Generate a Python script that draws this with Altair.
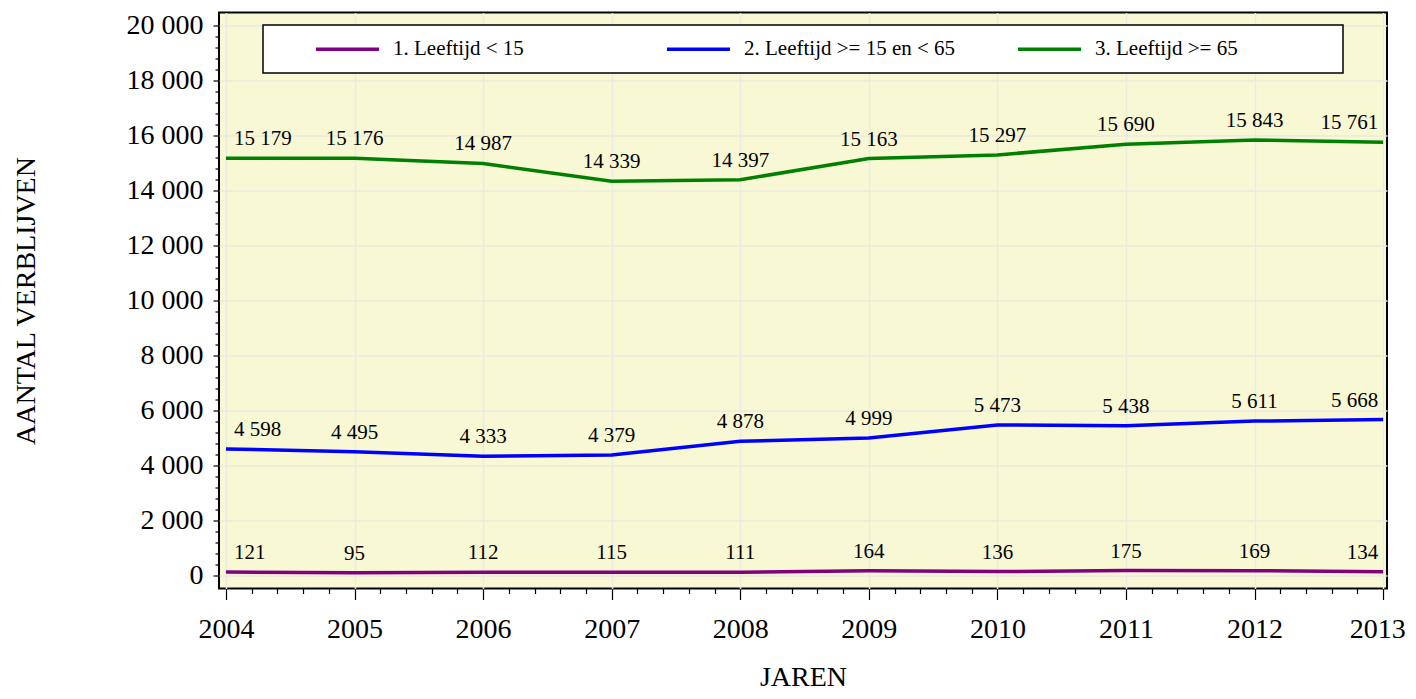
import altair as alt
import pandas as pd

years = [2004, 2005, 2006, 2007, 2008, 2009, 2010, 2011, 2012, 2013]
series_names = ["1. Leeftijd < 15", "2. Leeftijd >= 15 en < 65", "3. Leeftijd >= 65"]
age_lt15 = [121, 95, 112, 115, 111, 164, 136, 175, 169, 134]
age_15_65 = [4598, 4495, 4333, 4379, 4878, 4999, 5473, 5438, 5611, 5668]
age_ge65 = [15179, 15176, 14987, 14339, 14397, 15163, 15297, 15690, 15843, 15761]
colors = ["#800080", "#0000ff", "#008000"]

rows = []
for name, vals in zip(series_names, [age_lt15, age_15_65, age_ge65]):
    for y, v in zip(years, vals):
        rows.append({"year": y, "value": v, "series": name,
                     "label": f"{v:,}".replace(",", " ")})
df = pd.DataFrame(rows)

FONT = "Liberation Serif"
x_minor = [round(years[0] + i * 0.2, 1) for i in range(int((years[-1] - years[0]) * 5) + 1)]
y_minor = list(range(0, 20001, 400))

x_major_test = "abs(datum.value - round(datum.value)) < 0.01"
y_major_test = "datum.value % 2000 === 0"

xscale = alt.Scale(domain=[2003.946, 2013.03], nice=False, zero=False)
yscale = alt.Scale(domain=[-480, 20480], nice=False, zero=False)

x_axis = alt.Axis(
    values=x_minor, tickCount=500, orient="bottom", title="JAREN",
    labelExpr=f"{x_major_test} ? format(datum.value, 'd') : ''",
    labelFont=FONT, labelFontSize=28, labelColor="black", labelPadding=16,
    labelFlush=False, labelOverlap=False,
    labelOffset={"condition": {"test": f"datum.value > {years[-1]} - 0.01", "value": -6}, "value": 0},
    tickSize={"condition": {"test": x_major_test, "value": 11}, "value": 5},
    tickColor="black", tickWidth=1.2,
    gridOpacity={"condition": {"test": x_major_test, "value": 1}, "value": 0},
    gridColor="#ebebe2", gridWidth=1.5, domain=False,
    titleFont=FONT, titleFontSize=28, titleFontWeight="normal", titleColor="black",
    titleBaseline="alphabetic", titleY=97, titleAnchor="middle",
)
y_axis = alt.Axis(
    values=y_minor, tickCount=500, orient="left", title="AANTAL VERBLIJVEN",
    labelExpr=f"{y_major_test} ? replace(format(datum.value, ','), ',', ' ') : ''",
    labelFont=FONT, labelFontSize=28, labelColor="black", labelPadding=10,
    labelOverlap=False, labelFlush=False,
    tickSize={"condition": {"test": y_major_test, "value": 6}, "value": 4},
    tickColor="black", tickWidth=1.2,
    gridOpacity={"condition": {"test": y_major_test, "value": 1}, "value": 0},
    gridColor="#ebebe2", gridWidth=1.5, domain=False,
    titleFont=FONT, titleFontSize=28, titleFontWeight="normal", titleColor="black",
    titleBaseline="alphabetic", titleAngle=270, titleX=-185, titleY=288, titleAlign="center",
)

legend = alt.Legend(
    orient="none", legendX=95, legendY=3, direction="horizontal", title=None,
    symbolType="stroke", symbolSize=3969, symbolStrokeWidth=3.5,
    labelFont=FONT, labelFontSize=21, labelColor="black", labelOffset=12,
    columnPadding=55, gridAlign="all", padding=0, labelLimit=400,
)

base = alt.Chart(df)

box = alt.Chart(alt.Data(values=[{}])).mark_rect(
    fill="white", stroke="black", strokeWidth=1.5
).encode(x=alt.value(44), x2=alt.value(1124), y=alt.value(12.5), y2=alt.value(60.5))

lines = base.mark_line(strokeWidth=3.5).encode(
    x=alt.X("year:Q", scale=xscale, axis=x_axis),
    y=alt.Y("value:Q", scale=yscale, axis=y_axis),
    color=alt.Color("series:N", scale=alt.Scale(domain=series_names, range=colors), legend=legend),
)

txt_kw = dict(font=FONT, fontSize=21, color="black", baseline="alphabetic", dy=-13)
enc = dict(x=alt.X("year:Q", scale=xscale), y=alt.Y("value:Q", scale=yscale), text="label:N")

first = base.transform_filter(f"datum.year == {years[0]}").mark_text(align="left", dx=8, **txt_kw).encode(**enc)
middle = base.transform_filter(f"datum.year > {years[0]} && datum.year < {years[-1]}").mark_text(align="center", **txt_kw).encode(**enc)
last = base.transform_filter(f"datum.year == {years[-1]}").mark_text(align="right", dx=-5, **txt_kw).encode(**enc)

chart = alt.layer(lines, box, first, middle, last).properties(
    width=1168, height=576,
    autosize=alt.AutoSizeParams(type="none"),
    padding={"left": 211, "top": 4.5, "right": 20, "bottom": 102},
).configure_view(
    fill="#f8f8d4", stroke="black", strokeWidth=2
)

chart.save("out.html", embed_options={"renderer": "svg", "actions": False})
